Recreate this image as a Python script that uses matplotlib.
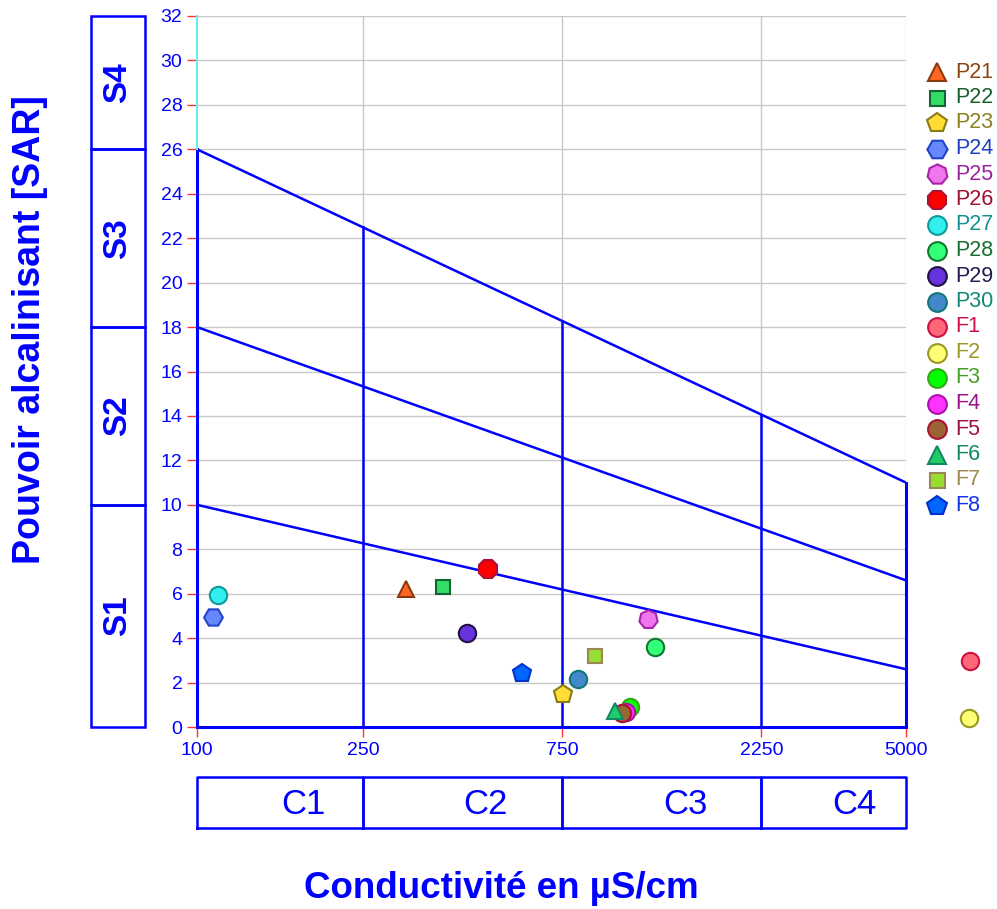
import matplotlib.pyplot as plt
import matplotlib.transforms as mtransforms
from matplotlib.patches import Rectangle
from matplotlib.lines import Line2D
import numpy as np

plt.rcParams['font.family'] = ['Liberation Sans', 'DejaVu Sans']

# points: conductivity (uS/cm) and SAR
names = ['P21', 'P22', 'P23', 'P24', 'P25', 'P26', 'P27', 'P28', 'P29', 'P30',
         'F1', 'F2', 'F3', 'F4', 'F5', 'F6', 'F7', 'F8']
cond = [317, 389, 754, 109, 1204, 498, 112, 1252, 444, 818,
        7120, 7080, 1090, 1066, 1043, 1004, 899, 601]
sar = [6.2, 6.3, 1.5, 4.95, 4.86, 7.1, 5.94, 3.6, 4.23, 2.16,
       2.97, 0.4, 0.9, 0.68, 0.63, 0.72, 3.2, 2.43]
markers = ['^', 's', 'p', 'H', (7, 0, 0), '8', 'o', 'o', 'o', 'o',
           'o', 'o', 'o', 'o', 'o', '^', 's', 'p']
msize = [12, 10, 13.5, 13.5, 13.5, 13.5, 12.5, 12.5, 12.5, 12.5,
         12.5, 12.5, 12.5, 12.5, 12.5, 12, 10, 13.5]
face = ['#FF6622', '#33DD66', '#FFDD33', '#6688FF', '#EE77EE', '#FF0000', '#33EEEE', '#33FF77', '#6633DD', '#4488CC',
        '#FF6677', '#FFFF77', '#00FF00', '#FF33FF', '#996633', '#22CC66', '#99DD33', '#0066FF']
edge = ['#8B3A0F', '#116633', '#8B7B1A', '#2244CC', '#AA22AA', '#AA1133', '#119999', '#117733', '#221144', '#117777',
        '#CC1144', '#999922', '#33AA11', '#AA11AA', '#AA1133', '#118866', '#998855', '#0033CC']
textcol = ['#8B4513', '#1A5E2A', '#8B8020', '#2040C0', '#9922A0', '#A01030', '#11918F', '#1A6E33', '#221A50', '#11887A',
           '#CC1144', '#999922', '#44A022', '#991188', '#A01040', '#118866', '#9F8850', '#1133EE']

# diagram geometry
xticks = [100, 250, 750, 2250, 5000]
sar_lines = [[10, 2.6], [18, 6.6], [26, 11]]
s_bounds = [0, 10, 18, 26, 32]
s_names = ['S1', 'S2', 'S3', 'S4']
c_bounds = [100, 250, 750, 2250, 5000]
c_names = ['C1', 'C2', 'C3', 'C4']
c_label_x = [180, 490, 1480, 3770]

blue = '#0000FF'
W, H = 997, 909

fig = plt.figure(figsize=(9.97, 9.09), dpi=100)
ax = fig.add_axes([197/W, 1-727/H, 709/W, 711/H])
ax.set_xscale('log')
ax.set_xlim(100, 5000)
ax.set_ylim(0, 32)

# grid
for yy in range(2, 33, 2):
    ax.axhline(yy, color='#C8C8C8', lw=1, zorder=0)
for xx in xticks[1:]:
    ax.axvline(xx, color='#C8C8C8', lw=1, zorder=0)

for s in ax.spines.values():
    s.set_visible(False)

ax.set_xticks(xticks)
ax.set_xticklabels([str(v) for v in xticks])
ax.xaxis.set_minor_locator(plt.NullLocator())
ax.set_yticks(range(0, 33, 2))
ax.tick_params(axis='both', colors='#FF3333', labelcolor=blue, labelsize=14, length=7, width=1)
ax.tick_params(axis='x', pad=4)

# diagram lines
lx = [100, 5000]
for ln in sar_lines:
    ax.plot(lx, ln, color=blue, lw=1.8, zorder=2)
top = sar_lines[-1]
frac = lambda c: np.log10(c / 100) / np.log10(50)
for c in xticks[1:4]:
    ax.plot([c, c], [0, top[0] + (top[1]-top[0]) * frac(c)], color=blue, lw=1.8, zorder=2)
ax.plot([5000, 5000], [0, top[1]], color=blue, lw=2.2, zorder=2, clip_on=False)
ax.plot([100, 100], [0, top[0]], color=blue, lw=2.2, zorder=2, clip_on=False)
ax.plot([100, 100], [top[0], 32], color='#66EEEE', lw=1.5, zorder=2, clip_on=False)
ax.plot([100, 5000], [0, 0], color=blue, lw=2.2, zorder=2, clip_on=False)

# points
for i in range(len(names)):
    ax.plot(cond[i], sar[i], marker=markers[i], ls='none', ms=msize[i],
            mfc=face[i], mec=edge[i], mew=1.5, clip_on=False, zorder=5, label=names[i])

# legend drawn by hand on the right
for i in range(len(names)):
    yl = 1 - (72 + 25.5*i)/H
    fig.add_artist(Line2D([937/W], [yl], transform=fig.transFigure, marker=markers[i], ls='none',
                          ms=msize[i]*1.08, mfc=face[i], mec=edge[i], mew=1.5))
    fig.text(955/W, yl, names[i], ha='left', va='center', fontsize=15.5, color=textcol[i])

# S boxes on the left
trS = mtransforms.blended_transform_factory(fig.transFigure, ax.transData)
x0, x1 = 91/W, 145/W
for i in range(4):
    r = Rectangle((x0, s_bounds[i]), x1-x0, s_bounds[i+1]-s_bounds[i], transform=trS,
                  fill=False, ec=blue, lw=1.8, clip_on=False)
    fig.add_artist(r)
    fig.text((x0+x1)/2, (s_bounds[i]+s_bounds[i+1])/2, s_names[i], transform=trS,
             rotation=90, ha='center', va='center', fontsize=24, fontweight='bold', color=blue)

# C boxes at the bottom
trC = mtransforms.blended_transform_factory(ax.transData, fig.transFigure)
y0, y1 = 1-828/H, 1-777/H
for i in range(4):
    ax.plot([c_bounds[i], c_bounds[i+1], c_bounds[i+1], c_bounds[i], c_bounds[i]],
            [y0, y0, y1, y1, y0], transform=trC, color=blue, lw=1.8, clip_on=False)
    ax.text(c_label_x[i], 1-805/H, c_names[i], transform=trC, ha='center', va='center',
            fontsize=25, color=blue)

fig.text(30/W, 1-330/H, 'Pouvoir alcalinisant [SAR]', rotation=90, ha='center', va='center',
         fontsize=27, fontweight='bold', color=blue)
fig.text(501/W, 1-889/H, 'Conductivité en µS/cm', ha='center', va='center',
         fontsize=26.5, fontweight='bold', color=blue)

fig.savefig('out.png', dpi=100)
